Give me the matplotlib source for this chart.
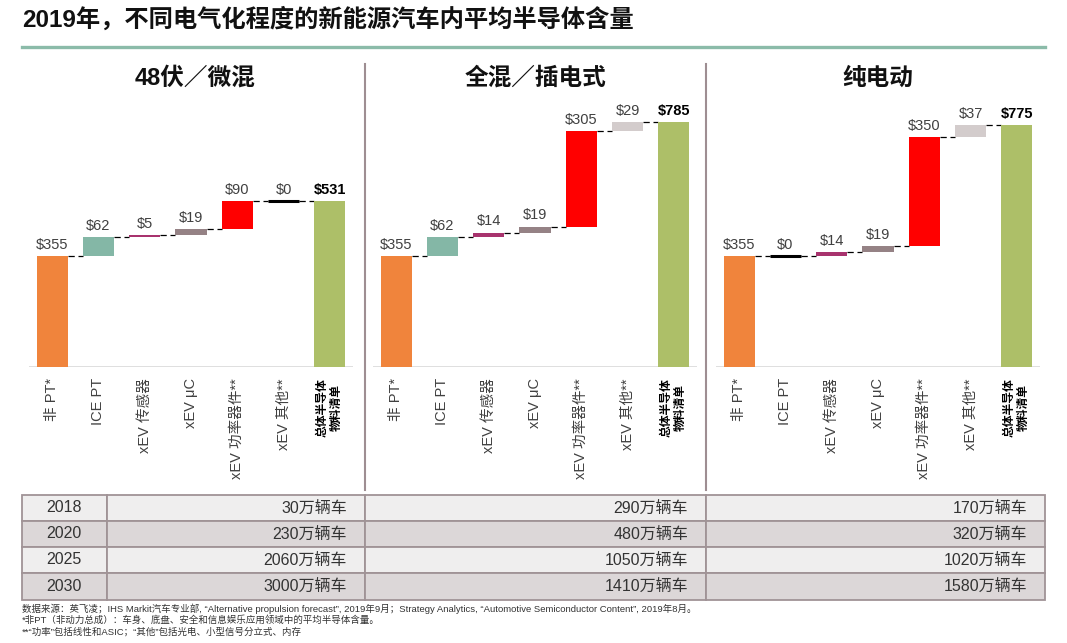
import matplotlib
matplotlib.use("Agg")
import matplotlib.pyplot as plt
from matplotlib.patches import Rectangle
from matplotlib.lines import Line2D

plt.rcParams['font.family'] = ['Liberation Sans', 'Noto Sans CJK SC', 'DejaVu Sans']

W, H = 1067, 643

# ---- data ----
title = "2019年，不同电气化程度的新能源汽车内平均半导体含量"
panel_titles = ["48伏／微混", "全混／插电式", "纯电动"]
categories = ["非 PT*", "ICE PT", "xEV 传感器", "xEV μC", "xEV 功率器件**", "xEV 其他**", "总体半导体\n物料清单"]
mild_values = [355, 62, 5, 19, 90, 0, 531]
phev_values = [355, 62, 14, 19, 305, 29, 785]
bev_values = [355, 0, 14, 19, 350, 37, 775]
panel_values = [mild_values, phev_values, bev_values]
bar_colors = ["#F0843C", "#84B7A6", "#A8336E", "#958285", "#FF0000", "#D3CCCC", "#ADBF68"]

years = ["2018", "2020", "2025", "2030"]
mild_sales = ["30万辆车", "230万辆车", "2060万辆车", "3000万辆车"]
phev_sales = ["290万辆车", "480万辆车", "1050万辆车", "1410万辆车"]
bev_sales = ["170万辆车", "320万辆车", "1020万辆车", "1580万辆车"]

footnotes = [
    "数据来源：英飞凌；IHS Markit汽车专业部, “Alternative propulsion forecast”, 2019年9月；Strategy Analytics, “Automotive Semiconductor Content”, 2019年8月。",
    "*非PT（非动力总成）：车身、底盘、安全和信息娱乐应用领域中的平均半导体含量。",
    "**“功率”包括线性和ASIC；“其他”包括光电、小型信号分立式、内存",
]


def fx(x):
    return x / W


def fy(y):
    return 1 - y / H


fig = plt.figure(figsize=(W / 100, H / 100), dpi=100)

# title + header rule
fig.text(fx(22), fy(20), title, fontsize=17.5, fontweight='bold', color='#111111',
         va='center', ha='left')
fig.add_artist(Line2D([fx(22), fx(1045)], [fy(47), fy(47)], color='#8BBBA9', lw=2.4))

# panel separators
for sx in [365, 706]:
    fig.add_artist(Line2D([fx(sx), fx(sx)], [fy(64), fy(490)], color='#9E8E92', lw=1.5))

# ---- waterfall panels ----
base_y = 367
top_y = 100
px_per_unit = 0.312
panel_left = [29, 373, 716]
panel_width = 324
panel_centers = [195, 535, 878]

for p in range(3):
    vals = panel_values[p]
    ax = fig.add_axes([fx(panel_left[p]), fy(base_y), panel_width / W, (base_y - top_y) / H])
    ax.set_xlim(-0.5, 6.5)
    ax.set_ylim(0, (base_y - top_y) / px_per_unit)
    for s in ax.spines.values():
        s.set_visible(False)
    ax.set_yticks([])
    ax.axhline(0, color='#D9D9D9', lw=1.2, zorder=1)

    n = len(vals)
    cum = 0
    tops = []
    for i, v in enumerate(vals):
        if i == n - 1:
            bottom, top = 0, v
        else:
            bottom, top = cum, cum + v
            cum = top
        tops.append(top)
        if v == 0:
            ax.hlines(top, i - 0.34, i + 0.34, color='black', lw=2.2, zorder=3)
        else:
            ax.bar(i, top - bottom, bottom=bottom, width=0.67, color=bar_colors[i], zorder=2)
        last = i == n - 1
        ax.annotate("$%d" % v, (i, top), xytext=(0, 3), textcoords='offset points',
                    ha='center', va='bottom', fontsize=10.5,
                    fontweight='bold' if last else 'normal',
                    color='black' if last else '#404040')
    # dashed connectors
    for i in range(n - 1):
        ax.plot([i + 0.335, i + 1 - 0.335], [tops[i], tops[i]], color='black', lw=0.9,
                dashes=(5, 3), zorder=1)

    ax.set_xticks(range(n))
    ax.set_xticklabels(categories, rotation=90, fontsize=10.5, color='#404040')
    ax.tick_params(axis='x', length=0, pad=8)
    for lbl in ax.get_xticklabels():
        lbl.set_va('top')
    last_lbl = ax.get_xticklabels()[-1]
    last_lbl.set_fontweight('bold')
    last_lbl.set_fontsize(8.5)
    last_lbl.set_color('black')
    last_lbl.set_multialignment('center')
    last_lbl.set_linespacing(1.25)

    fig.text(fx(panel_centers[p]), fy(78), panel_titles[p], fontsize=17, fontweight='bold',
             ha='center', va='center', color='#111111')

# ---- table ----
col_edges = [22, 107, 365, 706, 1045]
row_edges = [495, 521, 547, 573, 600]
row_fill = ["#EFEEEE", "#DCD7D8", "#EFEEEE", "#DCD7D8"]
border = "#A09396"
sales_cols = [mild_sales, phev_sales, bev_sales]

for r in range(4):
    y0, y1 = row_edges[r], row_edges[r + 1]
    for c in range(4):
        x0, x1 = col_edges[c], col_edges[c + 1]
        fig.add_artist(Rectangle((fx(x0), fy(y1)), (x1 - x0) / W, (y1 - y0) / H,
                                 facecolor=row_fill[r], edgecolor=border, lw=1.3))
    yc = fy((y0 + y1) / 2)
    fig.text(fx(64), yc, years[r], fontsize=11.5, ha='center', va='center', color='#333333')
    for c in range(3):
        fig.text(fx(col_edges[c + 2] - 18), yc, sales_cols[c][r], fontsize=11.5,
                 ha='right', va='center', color='#333333')

# ---- footnotes ----
for k, note in enumerate(footnotes):
    fig.text(fx(22), fy(609 + k * 11.5), note, fontsize=6.8, ha='left', va='center',
             color='#333333')

fig.savefig("out.png", dpi=100)
